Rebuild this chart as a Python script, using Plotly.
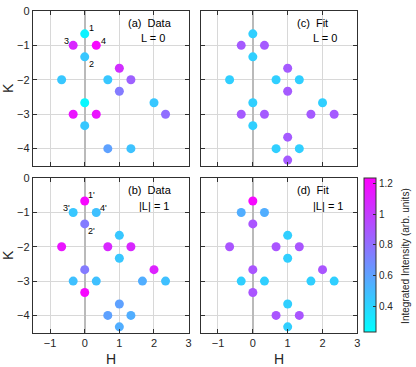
import plotly.graph_objects as go

# reciprocal-lattice positions (H, K) and integrated intensities for each panel
h_a = [0, -1/3, 1/3, 0, 1, -2/3, 2/3, 4/3, 1, 0, 2, -1/3, 1/3, 7/3, 0, 2/3, 4/3]
k_a = [-2/3, -1, -1, -4/3, -5/3, -2, -2, -2, -7/3, -8/3, -8/3, -3, -3, -3, -10/3, -4, -4]
i_a = [0.28, 1.08, 1.20, 0.45, 1.05, 0.45, 0.45, 0.85, 0.75, 0.26, 0.45, 1.15, 1.15, 0.80, 0.45, 0.60, 0.47]

h_c = [0, -1/3, 1/3, 0, 1, -2/3, 2/3, 4/3, 1, 0, 2, -1/3, 1/3, 5/3, 7/3, 0, 1, 2/3, 4/3, 1]
k_c = [-2/3, -1, -1, -4/3, -5/3, -2, -2, -2, -7/3, -8/3, -8/3, -3, -3, -3, -3, -10/3, -11/3, -4, -4, -13/3]
i_c = [0.42, 0.88, 0.88, 0.42, 0.88, 0.42, 0.42, 0.42, 0.88, 0.42, 0.42, 0.88, 0.88, 0.88, 0.88, 0.42, 0.88, 0.42, 0.42, 0.88]

h_b = [0, -1/3, 1/3, 0, 1, -2/3, 2/3, 4/3, 1, 0, 2, -1/3, 1/3, 5/3, 7/3, 0, 1, 2/3, 4/3, 1]
k_b = [-2/3, -1, -1, -4/3, -5/3, -2, -2, -2, -7/3, -8/3, -8/3, -3, -3, -3, -3, -10/3, -11/3, -4, -4, -13/3]
i_b = [1.20, 0.45, 0.48, 0.75, 0.45, 1.15, 1.08, 1.08, 0.45, 0.75, 1.10, 0.48, 0.48, 0.55, 0.48, 1.20, 0.60, 0.60, 0.55, 0.55]

h_d = h_b
k_d = k_b
i_d = [1.20, 0.55, 0.55, 0.90, 0.42, 0.90, 0.90, 0.90, 0.42, 0.90, 0.90, 0.42, 0.42, 0.42, 0.42, 0.90, 0.42, 0.90, 0.90, 0.42]

peak_labels_a = ["1", "2", "3", "4"]
peak_labels_b = ["1'", "2'", "3'", "4'"]
peak_h = [0, 0, -1/3, 1/3]
peak_k = [-2/3, -4/3, -1, -1]

W, H = 416, 367
def px(x):
    return x / W
def py(y):
    return 1 - y / H

FONT = "Liberation Sans, Arial"
fig = go.Figure()
panels = [
    ("", h_a, k_a, i_a),
    ("2", h_c, k_c, i_c),
    ("3", h_b, k_b, i_b),
    ("4", h_d, k_d, i_d),
]
for ax, hh, kk, ii in panels:
    fig.add_trace(go.Scatter(
        x=hh, y=kk, mode="markers", xaxis="x" + ax, yaxis="y" + ax,
        marker=dict(size=9, color=ii, coloraxis="coloraxis", line=dict(width=0)),
        showlegend=False, hoverinfo="x+y"))

domx = [(px(33), px(190)), (px(202), px(360))]
domy = [(py(162.5), py(5)), (py(332), py(175))]

axis_common = dict(showline=True, mirror="ticks", linecolor="#303030", linewidth=1,
                   ticks="inside", ticklen=4, tickcolor="#303030",
                   showgrid=True, gridcolor="#d8d8d8", gridwidth=1,
                   tickfont=dict(family=FONT, size=11, color="#262626"))

layout = dict(width=W, height=H, margin=dict(l=0, r=0, t=0, b=0),
              plot_bgcolor="white", paper_bgcolor="white")
cfg = {"": (0, 0), "2": (1, 0), "3": (0, 1), "4": (1, 1)}
for ax, (c, r) in cfg.items():
    xa = dict(axis_common, domain=domx[c], range=[-1.5, 3], tickvals=[-1, 0, 1, 2, 3],
              zeroline=True, zerolinecolor="#bababa", zerolinewidth=2,
              anchor="y" + ax, showticklabels=(r == 1))
    ya = dict(axis_common, domain=domy[r], range=[-4.5, 0], tickvals=[0, -1, -2, -3, -4],
              zeroline=False, anchor="x" + ax, showticklabels=(c == 0))
    if c == 0:
        ya["title"] = dict(text="K", font=dict(family=FONT, size=14, color="#262626"), standoff=6)
    layout["xaxis" + ax] = xa
    layout["yaxis" + ax] = ya

layout["coloraxis"] = dict(
    colorscale=[[0, "rgb(0,255,255)"], [1, "rgb(255,0,255)"]], cmin=0.232, cmax=1.232,
    colorbar=dict(x=px(367), xanchor="left", y=py(253.5), yanchor="middle",
                  len=157 / H, lenmode="fraction", thickness=12, thicknessmode="pixels",
                  outlinewidth=1, outlinecolor="#303030", xpad=0, ypad=0,
                  tickvals=[0.4, 0.6, 0.8, 1, 1.2], ticktext=["0.4", "0.6", "0.8", "1", "1.2"],
                  ticks="inside", ticklen=3, tickcolor="#303030",
                  tickfont=dict(family=FONT, size=10, color="#262626")))
fig.update_layout(**layout)

# axis titles H under both bottom panels
for cx in [(33 + 190) / 2, (202 + 360) / 2]:
    fig.add_annotation(xref="paper", yref="paper", x=px(cx), y=py(359), text="H",
                       showarrow=False, xanchor="center", yanchor="middle",
                       font=dict(family=FONT, size=14, color="#262626"))

# colorbar title
fig.add_annotation(xref="paper", yref="paper", x=px(409), y=py(254),
                   text="Integrated Intensity (arb. units)", textangle=-90,
                   showarrow=False, xanchor="center", yanchor="middle",
                   font=dict(family=FONT, size=10, color="#262626"))

fnt = dict(family=FONT, size=11, color="black")
titles = [("(a)  Data", "L = 0", 127, 17, 140, 33),
          ("(c)  Fit", "L = 0", 297, 17, 313, 33),
          ("(b)  Data", "|L| = 1", 127, 187, 138, 203),
          ("(d)  Fit", "|L| = 1", 297, 187, 313, 203)]
for t1, t2, x1, y1, x2, y2 in titles:
    fig.add_annotation(xref="paper", yref="paper", x=px(x1), y=py(y1), text=t1,
                       showarrow=False, xanchor="left", yanchor="middle", font=fnt)
    fig.add_annotation(xref="paper", yref="paper", x=px(x2), y=py(y2), text=t2,
                       showarrow=False, xanchor="left", yanchor="middle", font=fnt)

shifts = [(7, 6), (7, -7), (-7, 4), (7, 4)]
small = dict(family=FONT, size=9, color="black")
for labels, xr, yr in [(peak_labels_a, "x", "y"), (peak_labels_b, "x3", "y3")]:
    for lab, hx, ky, (dx, dy) in zip(labels, peak_h, peak_k, shifts):
        fig.add_annotation(xref=xr, yref=yr, x=hx, y=ky, text=lab, showarrow=False,
                           xshift=dx, yshift=dy, font=small)

fig.write_html("out.html", config={"displayModeBar": False},
               post_script="document.body.style.margin='0';document.body.style.overflow='hidden';")
